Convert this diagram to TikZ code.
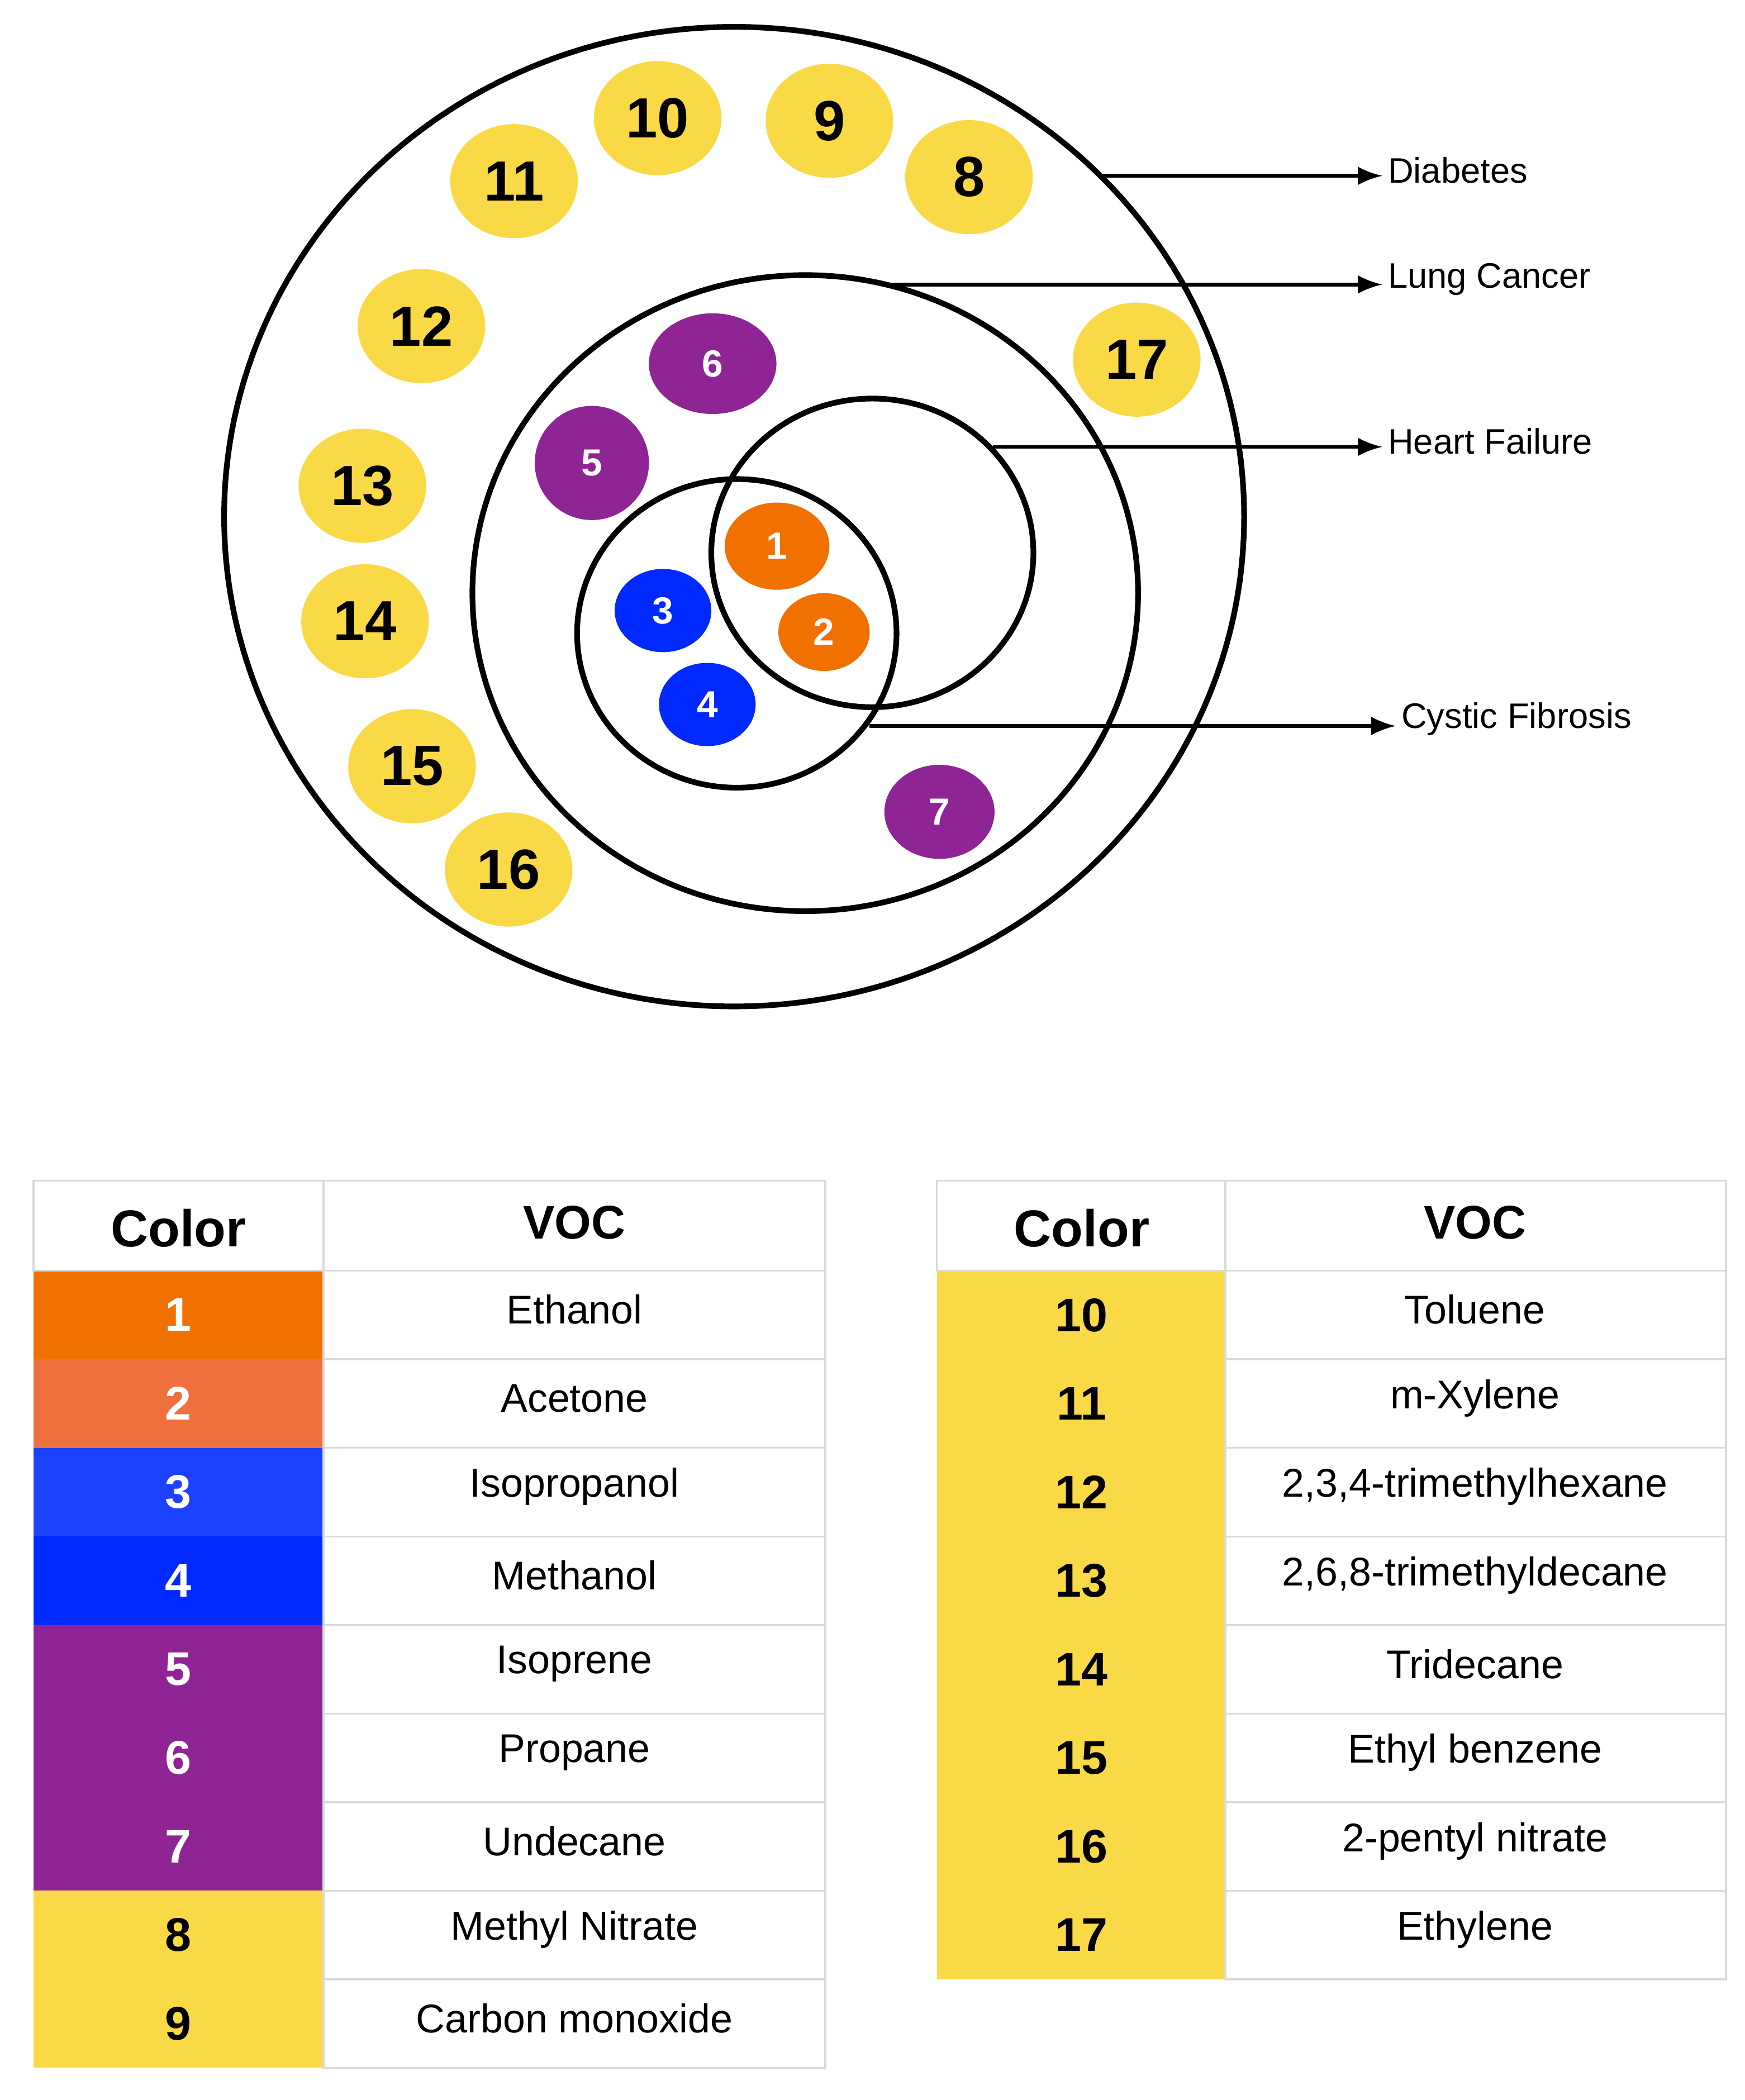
\documentclass[tikz,border=0pt]{standalone}
\usepackage{fontspec}
\setmainfont{Liberation Sans}
\usetikzlibrary{shapes.geometric}
\usetikzlibrary{positioning}
\definecolor{cyel}{rgb}{0.98, 0.85, 0.28}
\definecolor{cpur}{rgb}{0.56, 0.14, 0.58}
\definecolor{corA}{rgb}{0.94, 0.44, 0.0}
\definecolor{corB}{rgb}{0.93, 0.44, 0.24}
\definecolor{cbluA}{rgb}{0.11, 0.26, 1.0}
\definecolor{cbluB}{rgb}{0.0, 0.16, 1.0}
\definecolor{cgrid}{rgb}{0.85, 0.85, 0.85}

\begin{document}
\begin{tikzpicture}[x=0.01cm, y=-0.01cm,
  big/.style={ellipse, fill=cyel, minimum width=0.95cm, minimum height=0.85cm, inner sep=0pt, font=\fontsize{12}{12}\selectfont\bfseries},
  small/.style={ellipse, minimum width=#1, inner sep=0pt, text=white, font=\fontsize{8}{8}\selectfont\bfseries},
  lbl/.style={anchor=west, inner sep=1pt, font=\fontsize{7.5}{9}\selectfont},
  ring/.style={line width=1.2pt}]
  \useasboundingbox (0, 0) rectangle (1300, 1565);

  % rings
  \draw [ring] (547, 385) ellipse [x radius=380, y radius=365];
  \draw [ring] (600, 442) ellipse [x radius=248, y radius=237];
  \draw [ring] (650, 412) ellipse [x radius=120, y radius=115];
  \draw [ring] (549, 472) ellipse [x radius=119, y radius=115];

  % yellow VOCs
  \node [big] (v10) at (490, 88) {10};
  \node [big] (v9) at (618, 90) {9};
  \node [big] (v8) at (722, 132) {8};
  \node [big] (v11) at (383, 135) {11};
  \node [big] (v12) at (314, 243) {12};
  \node [big] (v17) at (847, 268) {17};
  \node [big] (v13) at (270, 362) {13};
  \node [big] (v14) at (272, 463) {14};
  \node [big] (v15) at (307, 571) {15};
  \node [big] (v16) at (379, 648) {16};

  % inner VOCs
  \node [small=0.95cm, minimum height=0.75cm, fill=cpur] (v6) at (531, 271) {6};
  \node [small=0.85cm, minimum height=0.85cm, fill=cpur] (v5) at (441, 345) {5};
  \node [small=0.82cm, minimum height=0.70cm, fill=cpur] (v7) at (700, 605) {7};
  \node [small=0.78cm, minimum height=0.65cm, fill=corA] (v1) at (579, 407) {1};
  \node [small=0.68cm, minimum height=0.58cm, fill=corA] (v2) at (614, 471) {2};
  \node [small=0.72cm, minimum height=0.62cm, fill=cbluB] (v3) at (494, 455) {3};
  \node [small=0.72cm, minimum height=0.62cm, fill=cbluB] (v4) at (527, 525) {4};

  % disease labels
  \node [lbl] (diab) at (1030, 127) {Diabetes};
  \node [lbl] (lung) at (1030, 208) {Lung Cancer};
  \node [lbl] (heart) at (1030, 329) {Heart Failure};
  \node [lbl] (cyst) at (1040, 536) {Cystic Fibrosis};
  \coordinate (cdiab) at (822, 131);
  \coordinate (clung) at (662, 212);
  \coordinate (cheart) at (740, 333);
  \coordinate (ccyst) at (648, 541);
  \draw [thick, -latex] (cdiab) -- (cdiab -| diab.west);
  \draw [thick, -latex] (clung) -- (clung -| lung.west);
  \draw [thick, -latex] (cheart) -- (cheart -| heart.west);
  \draw [thick, -latex] (ccyst) -- (ccyst -| cyst.west);

  % left table
  \foreach \n/\c/\t/\v [count=\i] in {1/corA/white/Ethanol, 2/corB/white/Acetone,
      3/cbluA/white/Isopropanol, 4/cbluB/white/Methanol, 5/cpur/white/Isoprene,
      6/cpur/white/Propane, 7/cpur/white/Undecane,
      8/cyel/black/Methyl Nitrate, 9/cyel/black/Carbon monoxide} {
    \fill [\c] (25, 881+66*\i) rectangle (241, 947+66*\i);
    \draw [cgrid] (241, 881+66*\i) rectangle (615, 947+66*\i);
    \node [font=\fontsize{10}{10}\selectfont\bfseries, text=\t] (ln\i) at (133, 914+66*\i) {\n};
    \node [font=\fontsize{8.5}{10}\selectfont] (lv\i) at (428, 910+66*\i) {\v};
  }
  \draw [cgrid] (25, 880) rectangle (241, 947);
  \draw [cgrid] (241, 880) rectangle (615, 947);
  \node [font=\fontsize{11}{11}\selectfont\bfseries] (lhc) at (133, 915) {Color};
  \node [font=\fontsize{10}{10}\selectfont\bfseries] (lhv) at (428, 911) {VOC};

  % right table
  \foreach \n/\v [count=\i] in {10/Toluene, 11/m-Xylene, 12/{2,3,4-trimethylhexane},
      13/{2,6,8-trimethyldecane}, 14/Tridecane, 15/Ethyl benzene,
      16/2-pentyl nitrate, 17/Ethylene} {
    \fill [cyel] (698, 881+66*\i) rectangle (913, 947+66*\i);
    \draw [cgrid] (913, 881+66*\i) rectangle (1286, 947+66*\i);
    \node [font=\fontsize{10}{10}\selectfont\bfseries] (rn\i) at (806, 914+66*\i) {\n};
    \node [font=\fontsize{8.5}{10}\selectfont] (rv\i) at (1099, 910+66*\i) {\v};
  }
  \draw [cgrid] (698, 880) rectangle (913, 947);
  \draw [cgrid] (913, 880) rectangle (1286, 947);
  \node [font=\fontsize{11}{11}\selectfont\bfseries] (rhc) at (806, 915) {Color};
  \node [font=\fontsize{10}{10}\selectfont\bfseries] (rhv) at (1099, 911) {VOC};
\end{tikzpicture}
\end{document}
